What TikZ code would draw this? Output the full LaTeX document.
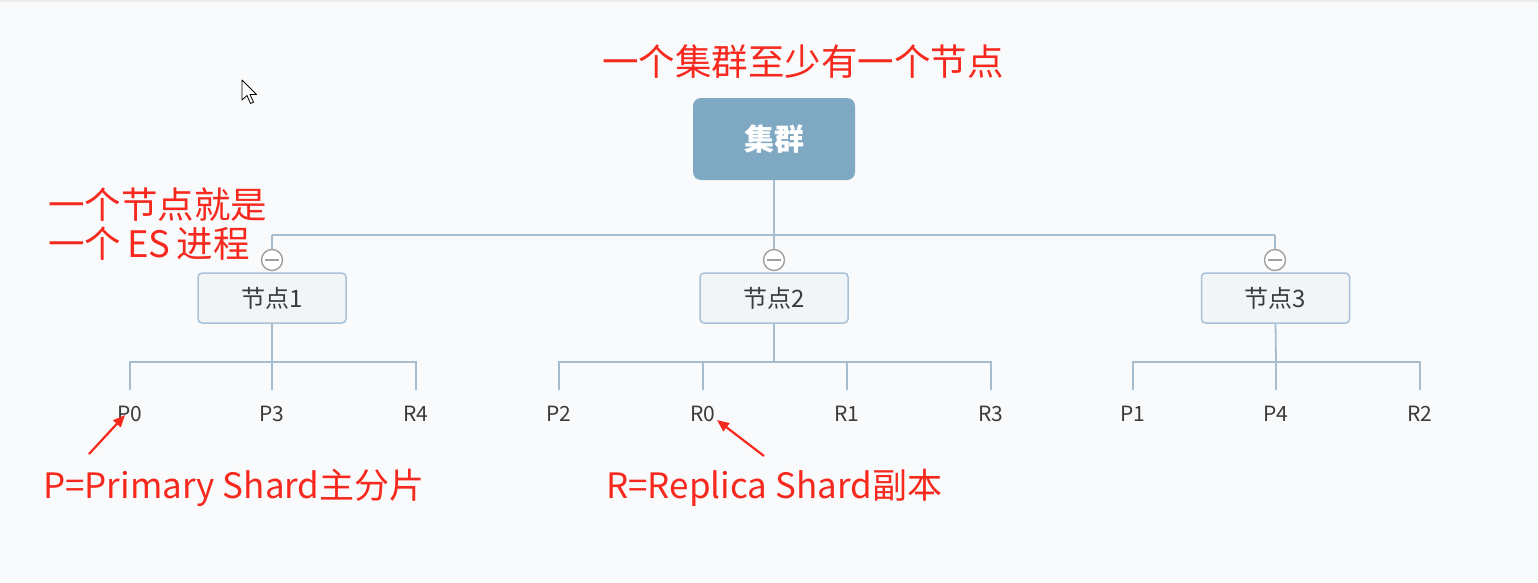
\documentclass[tikz,border=0pt]{standalone}
\usepackage{fontspec}
\setmainfont{Noto Sans CJK SC}
\usetikzlibrary{arrows.meta}
\definecolor{bgc}{HTML}{F9FAFB}
\definecolor{redc}{HTML}{F7291E}
\definecolor{linec}{HTML}{A6BDCF}
\definecolor{clusterc}{HTML}{7FA8C3}
\definecolor{nodefill}{HTML}{F2F5F8}
\definecolor{nodeborder}{HTML}{A9C1D6}
\definecolor{labc}{HTML}{3A3A3A}
\tikzset{
  redtxt/.style={text=redc, inner sep=0pt, font=\fontsize{35}{42}\selectfont},
  bigred/.style={redtxt, font=\fontsize{36.5}{44}\selectfont},
  nodebox/.style={draw=nodeborder, line width=1.5pt, fill=nodefill, rounded corners=4pt,
    minimum width=148pt, minimum height=50pt, inner sep=0pt, text=labc,
    font=\fontsize{24}{28}\selectfont},
  shardlab/.style={text=labc, inner sep=0pt, font=\fontsize{21}{24}\selectfont},
  conn/.style={draw=linec, line width=1.8pt},
  toggle/.style={circle, draw=gray!75, line width=1.4pt, fill=white, minimum size=21pt, inner sep=0pt},
  redarrow/.style={draw=redc, line width=2.2pt, -{Triangle[length=12pt,width=10pt]}},
}
\begin{document}
\begin{tikzpicture}[x=1pt,y=-1pt]
\useasboundingbox (0,0) rectangle (1538,582);
\fill[bgc] (0,0) rectangle (1538,582);
\draw[gray!15, line width=1.5pt] (0,1) -- (1538,1);
% mouse cursor
\draw[black, line width=0.8pt, fill=white, line join=round]
  (242,80) -- (242,100) -- (247,95.5) -- (250.5,103.5) -- (253.5,102.2) -- (250,94.5) -- (256.5,94.5) -- cycle;

% cluster
\node[fill=clusterc, rounded corners=8pt, minimum width=162pt, minimum height=82pt, inner sep=0pt,
  text=white, font=\fontsize{30}{34}\selectfont\bfseries] (cluster) at (774,139) {集群};

% bus
\coordinate (bus) at (774,235);
\coordinate (bl) at (272,235);
\coordinate (br) at (1275,235);
\draw[conn] (cluster.south) -- (bus);
\draw[conn] (bl) -- (br);

% toggles
\node[toggle] (t1) at (272,260) {};
\node[toggle] (t2) at (774,260) {};
\node[toggle] (t3) at (1275,260) {};
\draw[conn] (bl) -- (t1.north);
\draw[conn] (bus) -- (t2.north);
\draw[conn] (br) -- (t3.north);
\foreach \t in {t1,t2,t3}{\draw[gray!75, line width=1.4pt] ([xshift=-7pt]\t.center) -- ([xshift=7pt]\t.center);}

% nodes
\node[nodebox] (n1) at (272,298) {节点1};
\node[nodebox] (n2) at (774,298) {节点2};
\node[nodebox] (n3) at (1275.5,298) {节点3};

% shard labels
\node[shardlab] (p0) at (130,414) {P0};
\node[shardlab] (p3) at (272,414) {P3};
\node[shardlab] (r4) at (416,414) {R4};
\node[shardlab] (p2) at (559,414) {P2};
\node[shardlab] (r0) at (703,414) {R0};
\node[shardlab] (r1) at (847,414) {R1};
\node[shardlab] (r3) at (991,414) {R3};
\node[shardlab] (p1) at (1133,414) {P1};
\node[shardlab] (p4) at (1276,414) {P4};
\node[shardlab] (r2) at (1420,414) {R2};

% node 1 tree
\coordinate (h1) at (272,362);
\draw[conn] (n1.south) -- (h1);
\draw[conn] (130,390) |- (416,362) -- (416,390);
\draw[conn] (h1) -- (272,390);
% node 2 tree
\coordinate (h2) at (774,362);
\draw[conn] (n2.south) -- (h2);
\draw[conn] (559,390) |- (991,362) -- (991,390);
\draw[conn] (703,362) -- (703,390);
\draw[conn] (847,362) -- (847,390);
% node 3 tree
\coordinate (h3) at (1276,362);
\draw[conn] (n3.south) -- (h3);
\draw[conn] (1133,390) |- (1420,362) -- (1420,390);
\draw[conn] (h3) -- (1276,390);

% red annotations
\node[bigred, anchor=center] (ttop) at (803,62) {一个集群至少有一个节点};
\node[bigred, anchor=west] (tn1) at (48,205) {一个节点就是};
\node[bigred, anchor=west] (tn2) at (48,244) {一个\,ES\,进程};
\node[redtxt, anchor=west] (tp) at (43,488) {P=Primary Shard主分片};
\node[redtxt, anchor=west] (tr) at (606,488) {R=Replica Shard副本};

\coordinate (a1s) at (89,454);
\coordinate (a2s) at (764,456);
\draw[redarrow] (a1s) -- ([shift={(-5pt,7pt)}]p0.south);
\draw[redarrow] (a2s) -- ([shift={(14pt,2pt)}]r0.south);
\end{tikzpicture}
\end{document}
